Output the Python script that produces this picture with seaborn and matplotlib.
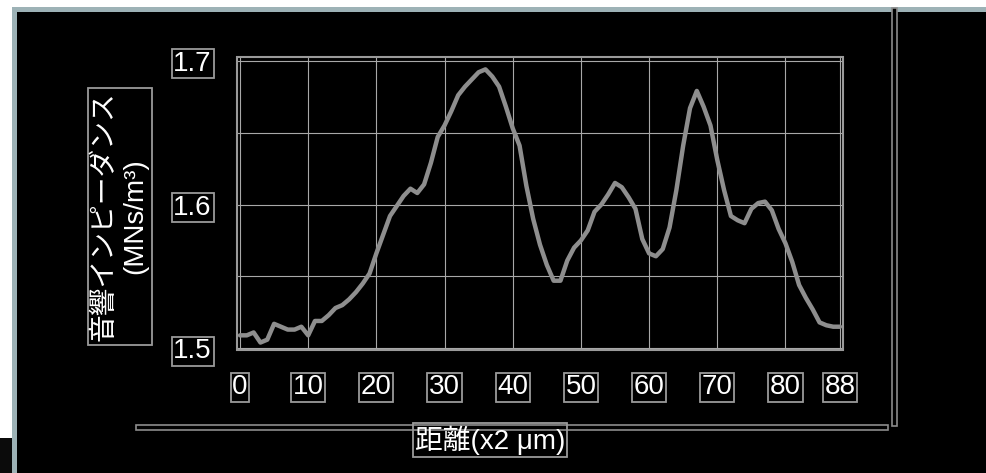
import matplotlib
matplotlib.use("Agg")
import matplotlib.pyplot as plt
from matplotlib.patches import Rectangle
from matplotlib.ticker import FixedLocator
import seaborn as sns
import pandas as pd

# acoustic impedance profile, one sample per step of 2 µm
distance = list(range(0, 89))
impedance = [
    1.509, 1.509, 1.511, 1.504, 1.506, 1.517, 1.515, 1.513, 1.513, 1.515,
    1.509, 1.519, 1.519, 1.523, 1.528, 1.530, 1.534, 1.539, 1.545, 1.552,
    1.566, 1.579, 1.592, 1.599, 1.606, 1.611, 1.608, 1.614, 1.629, 1.647,
    1.655, 1.665, 1.676, 1.682, 1.687, 1.692, 1.694, 1.689, 1.682, 1.668,
    1.653, 1.641, 1.613, 1.590, 1.572, 1.558, 1.547, 1.547, 1.561, 1.570,
    1.575, 1.582, 1.595, 1.600, 1.607, 1.615, 1.612, 1.605, 1.597, 1.576,
    1.566, 1.564, 1.569, 1.584, 1.610, 1.641, 1.667, 1.679, 1.668, 1.655,
    1.631, 1.610, 1.592, 1.589, 1.587, 1.597, 1.601, 1.602, 1.596, 1.583,
    1.573, 1.560, 1.544, 1.535, 1.527, 1.518, 1.516, 1.515, 1.515,
]
x_ticks = [0, 10, 20, 30, 40, 50, 60, 70, 80, 88]
y_major = [1.5, 1.6, 1.7]
y_minor = [1.55, 1.65]
x_title = "距離(x2 μm)"
y_title = "音響インピーダンス\n(MNs/m³)"

df = pd.DataFrame({"distance": distance, "impedance": impedance})

sns.set_theme(style="dark")
plt.rcParams["font.family"] = ["Liberation Sans", "Noto Sans CJK JP", "DejaVu Sans"]

W, H = 987, 473
fig = plt.figure(figsize=(W / 100, H / 100), dpi=100, facecolor="white")


def fx(px):
    return px / W


def fy(py):
    return 1 - py / H


# window frame: blue-grey border and black panel
fig.add_artist(Rectangle((fx(12), 0), fx(W - 12), fy(7), transform=fig.transFigure,
                         facecolor="#9db2b6", edgecolor="none", zorder=0))
fig.add_artist(Rectangle((fx(17), 0), fx(W - 17), fy(12), transform=fig.transFigure,
                         facecolor="black", edgecolor="none", zorder=0))
fig.add_artist(Rectangle((0, 0), fx(12), fy(438), transform=fig.transFigure,
                         facecolor="#0b0b0b", edgecolor="none", zorder=0))

# double separator lines
fig.add_artist(Rectangle((fx(136), fy(429.5)), fx(888 - 136), 5 / H, transform=fig.transFigure,
                         facecolor="black", edgecolor="#8c8c8c", linewidth=1.2, zorder=1))
fig.add_artist(Rectangle((fx(892), fy(426)), 4.5 / W, (426 - 8) / H, transform=fig.transFigure,
                         facecolor="black", edgecolor="#8c8c8c", linewidth=1.2, zorder=1))

ax = fig.add_axes([fx(237), fy(350), fx(843 - 237), (350 - 57) / H])
ax.set_facecolor("black")

sns.lineplot(data=df, x="distance", y="impedance", ax=ax, color="#8e8e8e",
             linewidth=3.2, zorder=3)

ax.set_xlim(-0.44, 88.44)
ax.set_ylim(1.4988, 1.7026)
ax.xaxis.set_major_locator(FixedLocator(x_ticks))
ax.yaxis.set_major_locator(FixedLocator(y_major))
ax.yaxis.set_minor_locator(FixedLocator(y_minor))
ax.set_xticklabels([str(v) for v in x_ticks])
ax.set_yticklabels([f"{v:.1f}" for v in y_major])
ax.set_xlabel("")
ax.set_ylabel("")

ax.grid(True, which="both", color="#a8a8a8", linewidth=0.8)
ax.set_axisbelow(True)

for s in ax.spines.values():
    s.set_visible(False)
ax.spines["left"].set_position(("outward", 2.3))
ax.spines["bottom"].set_position(("outward", 4.8))
ax.add_patch(Rectangle((0, 0), 1, 1, transform=ax.transAxes, fill=False,
                       edgecolor="#9a9a9a", linewidth=1.5, clip_on=False, zorder=4))

ax.tick_params(axis="both", which="both", direction="out", color="#9a9a9a",
               width=1.2, labelcolor="white", labelsize=20)
ax.tick_params(axis="y", which="both", length=10.8, pad=5)
ax.tick_params(axis="x", which="both", length=9.8, pad=3)

box = dict(boxstyle="square,pad=0.06", facecolor="black", edgecolor="#9a9a9a", linewidth=1.3)
for lab in ax.get_xticklabels() + ax.get_yticklabels():
    lab.set_bbox(box)

fig.text(fx(490), fy(440), x_title, ha="center", va="center", color="white", fontsize=20,
         bbox=dict(boxstyle="square,pad=0.08", facecolor="none", edgecolor="#9a9a9a", linewidth=1.3),
         zorder=5)
fig.text(fx(120), fy(216.5), y_title, ha="center", va="center", color="white", fontsize=20,
         rotation=90, multialignment="center", linespacing=1.2,
         bbox=dict(boxstyle="square,pad=0.14", facecolor="black", edgecolor="#9a9a9a", linewidth=1.3),
         zorder=5)

fig.savefig("out.png", dpi=100, facecolor=fig.get_facecolor())
